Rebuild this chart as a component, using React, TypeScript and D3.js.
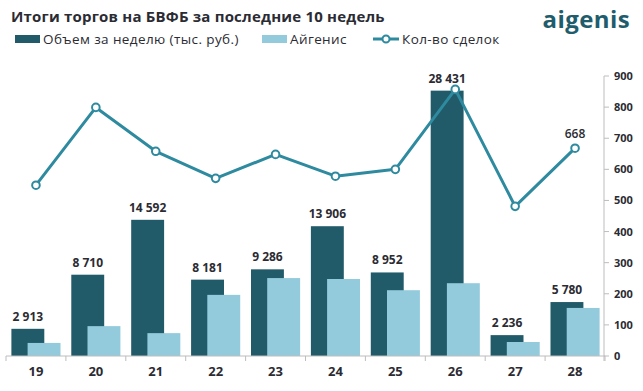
import * as d3 from "d3";

const weeks = ["19", "20", "21", "22", "23", "24", "25", "26", "27", "28"];
const volume = [2913, 8710, 14592, 8181, 9286, 13906, 8952, 28431, 2236, 5780];
const aigenis = [1400, 3200, 2450, 6550, 8350, 8250, 7050, 7800, 1500, 5150];
const deals = [549, 799, 658, 571, 648, 578, 600, 857, 481, 668];
const rightTicks = [0, 100, 200, 300, 400, 500, 600, 700, 800, 900];

const W = 643;
const H = 391;
const left = 6;
const right = 605;
const top = 76;
const bottom = 356;

const darkColor = "#215a69";
const lightColor = "#93cbdc";
const lineColor = "#2e8a9f";
const textColor = "#2b2b33";
const font = "'Open Sans', sans-serif";

const fmt = (v: number) => d3.format(",")(v).replace(/,/g, " ");

export default function App() {
  const x = d3
    .scaleBand<string>()
    .domain(weeks)
    .range([left, right])
    .paddingInner(0.18)
    .paddingOuter(0.09);
  const bw = x.bandwidth();
  const barW = bw * 0.67;

  const yL = d3.scaleLinear().domain([0, 30000]).range([bottom, top]);
  const yR = d3.scaleLinear().domain([0, 900]).range([bottom, top]);

  const line = d3
    .line<number>()
    .x((_, i) => (x(weeks[i]) || 0) + bw / 2)
    .y((d) => yR(d));

  const step = x.step();
  const boundaries = d3.range(weeks.length + 1).map((i) => left + i * step);

  return (
    <svg
      width={W}
      height={H}
      style={{ position: "absolute", left: 0, top: 0, background: "#fff" }}
      fontFamily={font}
    >
      <text x={11} y={22} fontSize={15} fontWeight={700} fill={textColor} letterSpacing={0.2}>
        Итоги торгов на БВФБ за последние 10 недель
      </text>
      <text x={630} y={28} fontSize={24} fontWeight={700} fill="#1f5d6d" textAnchor="end" letterSpacing={0.4}>
        aigenis
      </text>

      {/* legend */}
      <g fontSize={13.5} fill={textColor} letterSpacing={0.4}>
        <rect x={15} y={35} width={25} height={8} fill={darkColor} />
        <text x={43} y={44}>Объем за неделю (тыс. руб.)</text>
        <rect x={262} y={35} width={25} height={8} fill={lightColor} />
        <text x={290} y={44}>Айгенис</text>
        <line x1={373} x2={399} y1={39} y2={39} stroke={lineColor} strokeWidth={3} />
        <circle cx={386} cy={39} r={3.5} fill="#fff" stroke={lineColor} strokeWidth={2} />
        <text x={402} y={44}>Кол-во сделок</text>
      </g>

      {/* bars */}
      {weeks.map((w, i) => (
        <g key={w}>
          <rect
            x={x(w)}
            y={yL(volume[i])}
            width={barW}
            height={bottom - yL(volume[i])}
            fill={darkColor}
          />
          <rect
            x={(x(w) || 0) + bw - barW}
            y={yL(aigenis[i])}
            width={barW}
            height={bottom - yL(aigenis[i])}
            fill={lightColor}
          />
          <text
            x={(x(w) || 0) + barW / 2}
            y={yL(volume[i]) - 8}
            textAnchor="middle"
            fontSize={12}
            fontWeight={700}
            fill={textColor}
          >
            {fmt(volume[i])}
          </text>
        </g>
      ))}

      {/* x axis */}
      <line x1={left} x2={right} y1={bottom} y2={bottom} stroke="#bdbdbd" />
      {boundaries.map((b, i) => (
        <line key={i} x1={b} x2={b} y1={bottom} y2={bottom + 5} stroke="#bdbdbd" />
      ))}
      {weeks.map((w) => (
        <text
          key={w}
          x={(x(w) || 0) + bw / 2}
          y={376}
          textAnchor="middle"
          fontSize={13}
          fontWeight={700}
          fill={textColor}
        >
          {w}
        </text>
      ))}

      {/* right axis */}
      <line x1={604} x2={604} y1={top} y2={bottom + 5} stroke="#bdbdbd" />
      {rightTicks.map((t) => (
        <g key={t}>
          <line x1={604} x2={609} y1={yR(t)} y2={yR(t)} stroke="#bdbdbd" />
          <text x={614} y={yR(t) + 4} fontSize={11} fontWeight={700} fill={textColor}>
            {t}
          </text>
        </g>
      ))}

      {/* line */}
      <path d={line(deals) || ""} fill="none" stroke={lineColor} strokeWidth={3} strokeLinejoin="round" />
      {deals.map((d, i) => (
        <circle
          key={i}
          cx={(x(weeks[i]) || 0) + bw / 2}
          cy={yR(d)}
          r={3.8}
          fill="#fff"
          stroke={lineColor}
          strokeWidth={2}
        />
      ))}
      <text
        x={(x(weeks[9]) || 0) + bw / 2}
        y={yR(deals[9]) - 10}
        textAnchor="middle"
        fontSize={12}
        fontWeight={600}
        fill={textColor}
      >
        {deals[9]}
      </text>
    </svg>
  );
}
